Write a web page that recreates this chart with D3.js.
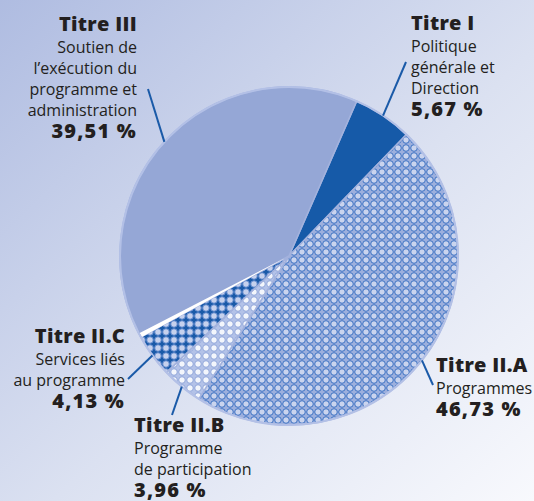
<!DOCTYPE html>
<html>
<head>
<meta charset="utf-8">
<script src="https://cdn.jsdelivr.net/npm/d3@7/dist/d3.min.js"></script>
<style>
  body { margin: 0; }
  svg text { font-family: "Open Sans", "DejaVu Sans", sans-serif; fill: #231f20; }
  .ttl { font-weight: 800; font-size: 20px; letter-spacing: 0.3px; }
  .desc { font-size: 16px; }
  .pct { font-weight: 800; font-size: 20px; letter-spacing: 1.2px; }
</style>
</head>
<body>
<div class="chart"></div>
<script>
// data
var titles = ["Titre I", "Titre II.A", "Titre II.B", "Titre II.C", "Titre III"];
var descs = [
  ["Politique", "générale et", "Direction"],
  ["Programmes"],
  ["Programme", "de participation"],
  ["Services liés", "au programme"],
  ["Soutien de", "l\u2019exécution du", "programme et", "administration"]
];
var values = [5.67, 46.73, 3.96, 4.13, 39.51];
var pctLabels = ["5,67 %", "46,73 %", "3,96 %", "4,13 %", "39,51 %"];

var svgWidth = 534;
var svgHeight = 501;
var cx = 289, cy = 256, radius = 169;

var svg = d3.select(".chart")
  .append("svg")
  .attr("width", svgWidth)
  .attr("height", svgHeight);

var defs = svg.append("defs");

// background gradient
var bg = defs.append("linearGradient")
  .attr("id", "bg")
  .attr("x1", "0").attr("y1", "0")
  .attr("x2", "1").attr("y2", "1");
bg.append("stop").attr("offset", "0%").attr("stop-color", "#afbce1");
bg.append("stop").attr("offset", "55%").attr("stop-color", "#dbe1f1");
bg.append("stop").attr("offset", "100%").attr("stop-color", "#f8f9fd");

svg.append("rect")
  .attr("width", svgWidth)
  .attr("height", svgHeight)
  .attr("fill", "url(#bg)");

// dot patterns
function addPattern(id, back, dotFill, dotStroke) {
  var p = defs.append("pattern")
    .attr("id", id)
    .attr("patternUnits", "userSpaceOnUse")
    .attr("x", cx).attr("y", cy)
    .attr("width", 8).attr("height", 8);
  p.append("rect").attr("width", 8).attr("height", 8).attr("fill", back);
  p.append("circle")
    .attr("cx", 4).attr("cy", 4).attr("r", 3.3)
    .attr("fill", dotFill)
    .attr("stroke", dotStroke)
    .attr("stroke-width", 1);
}
addPattern("patA", "#9cafdd", "#cad4ee", "#3a70c2");
addPattern("patB", "#b3c2e8", "#f3f6fc", "#8fa5da");
addPattern("patC", "#1a5aa8", "#c6d1ed", "#5c86cc");

var fills = ["#165aa8", "url(#patA)", "url(#patB)", "url(#patC)", "#95a7d6"];

var startA = 23.6 * Math.PI / 180;
var pie = d3.pie()
  .sort(null)
  .value(d => d)
  .startAngle(startA)
  .endAngle(startA + 2 * Math.PI);

var arcs = pie(values);
var arc = d3.arc().innerRadius(0).outerRadius(radius);

var chartGroup = svg.append("g")
  .attr("transform", `translate(${cx}, ${cy})`);

chartGroup.selectAll("path.slice")
  .data(arcs)
  .enter()
  .append("path")
  .attr("class", "slice")
  .attr("d", arc)
  .attr("fill", (d, i) => fills[i])
  .attr("stroke", "#a3b2dd")
  .attr("stroke-width", 1.5)
  .attr("stroke-linejoin", "round");

// white gap between II.C and III
var gapStart = arcs[3].endAngle;
chartGroup.append("path")
  .attr("d", d3.arc().innerRadius(6).outerRadius(radius - 1)
    .startAngle(gapStart - 0.004).endAngle(gapStart + 0.024)())
  .attr("fill", "#ffffff");

// outer rim
chartGroup.append("circle")
  .attr("r", radius)
  .attr("fill", "none")
  .attr("stroke", "#b3c0e6")
  .attr("stroke-width", 2);

// label layout: title baseline position, anchor, leader start
var labelPos = [
  {x: 411, y: 30, anchor: "start", lx: 406, ly: 62},
  {x: 436, y: 372, anchor: "start", lx: 433, ly: 385},
  {x: 134, y: 432, anchor: "start", lx: 172, ly: 415},
  {x: 125, y: 343, anchor: "end", lx: 128, ly: 379},
  {x: 137, y: 31, anchor: "end", lx: 148, ly: 89}
];

// leader lines to the outer edge at slice mid angle
arcs.forEach(function(d, i) {
  var mid = (d.startAngle + d.endAngle) / 2;
  var ex = cx + Math.sin(mid) * radius;
  var ey = cy - Math.cos(mid) * radius;
  svg.append("line")
    .attr("x1", labelPos[i].lx).attr("y1", labelPos[i].ly)
    .attr("x2", ex).attr("y2", ey)
    .attr("stroke", "#1a5aa8")
    .attr("stroke-width", 2);
});

// labels
titles.forEach(function(t, i) {
  var p = labelPos[i];
  var txt = svg.append("text")
    .attr("x", p.x)
    .attr("y", p.y)
    .attr("text-anchor", p.anchor);
  txt.append("tspan").attr("class", "ttl").attr("x", p.x).text(t);
  descs[i].forEach(function(line, j) {
    txt.append("tspan").attr("class", "desc")
      .attr("x", p.x)
      .attr("dy", j === 0 ? 21.5 : 21)
      .text(line);
  });
  txt.append("tspan").attr("class", "pct")
    .attr("x", p.x)
    .attr("dy", 22.5)
    .text(pctLabels[i]);
});
</script>
</body>
</html>
